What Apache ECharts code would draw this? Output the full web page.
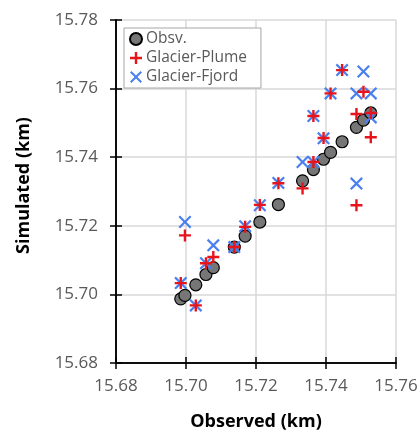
<!DOCTYPE html>
<html>
<head>
<meta charset="utf-8">
<script src="https://cdn.jsdelivr.net/npm/echarts@6/dist/echarts.min.js"></script>
<style>
html, body { margin: 0; padding: 0; background: #fff; }
#main { width: 420px; height: 430px; }
</style>
</head>
<body>
<div id="main"></div>
<script>
var obsX = [15.6985, 15.6997, 15.7028, 15.7057, 15.7078, 15.7138, 15.7169, 15.7211, 15.7264,
    15.7333, 15.7364, 15.7393, 15.7413, 15.7446, 15.7487, 15.7507, 15.7528];
var obsY = [15.6987, 15.6997, 15.7028, 15.7058, 15.7078, 15.7138, 15.7170, 15.7211, 15.7262,
    15.7331, 15.7364, 15.7394, 15.7414, 15.7445, 15.7487, 15.7508, 15.7529];

var plumeX = [15.6985, 15.6997, 15.7028, 15.7057, 15.7078, 15.7138, 15.7169, 15.7211, 15.7264, 15.7333,
    15.7364, 15.7364, 15.7393, 15.7413, 15.7446, 15.7487, 15.7487, 15.7507, 15.7528, 15.7528];
var plumeY = [15.7033, 15.7172, 15.6968, 15.7091, 15.7109, 15.7138, 15.7197, 15.7261, 15.7324, 15.7309,
    15.7386, 15.7520, 15.7456, 15.7586, 15.7654, 15.7526, 15.7260, 15.7591, 15.7529, 15.7458];

var fjordX = [15.6985, 15.6997, 15.7028, 15.7057, 15.7078, 15.7138, 15.7169, 15.7211, 15.7264, 15.7333,
    15.7364, 15.7364, 15.7393, 15.7413, 15.7446, 15.7487, 15.7487, 15.7507, 15.7528, 15.7528];
var fjordY = [15.7033, 15.7211, 15.6968, 15.7091, 15.7143, 15.7138, 15.7199, 15.7260, 15.7325, 15.7386,
    15.7386, 15.7520, 15.7455, 15.7586, 15.7654, 15.7586, 15.7323, 15.7650, 15.7586, 15.7516];

var seriesNames = ['Obsv.', 'Glacier-Plume', 'Glacier-Fjord'];

function pairs(xs, ys) {
    return xs.map(function (x, i) { return [x, ys[i]]; });
}

var plusPath = 'path://M4,0h2v4h4v2h-4v4h-2v-4h-4v-2h4z';
var crossPath = 'path://M0,1.2L1.2,0L5,3.8L8.8,0L10,1.2L6.2,5L10,8.8L8.8,10L5,6.2L1.2,10L0,8.8L3.8,5Z';

var txt = '#595959';
var fnt = '"Open Sans", sans-serif';

function axisBase(min, max, extra) {
    var a = {
        type: 'value',
        min: min,
        max: max,
        interval: 0.02,
        axisLine: { show: true, lineStyle: { color: '#000', width: 1.5 } },
        axisTick: { show: true, inside: false, length: 6, lineStyle: { color: '#000', width: 1.5 } },
        axisLabel: {
            color: txt, fontFamily: fnt, fontSize: 17,
            formatter: function (v) { return v.toFixed(2); }
        },
        splitLine: { show: true, lineStyle: { color: '#d9d9d9', width: 1.5 } }
    };
    for (var k in extra) a[k] = extra[k];
    return a;
}

var mainDiv = document.getElementById('main');
var myChart = echarts.init(mainDiv);

var option = {
    backgroundColor: '#fff',
    animation: false,
    grid: { left: 116, right: 24, top: 20, bottom: 67, outerBoundsMode: 'none' },
    legend: {
        data: seriesNames,
        orient: 'vertical',
        left: 124,
        top: 28,
        padding: [3, 14, 3, 5],
        itemGap: 3,
        itemWidth: 12,
        itemHeight: 12,
        borderColor: '#a6a6a6',
        borderWidth: 1,
        backgroundColor: '#fff',
        textStyle: { color: txt, fontFamily: fnt, fontSize: 15.5, padding: [0, 0, 0, -1] }
    },
    xAxis: [
        axisBase(15.68, 15.76, {
            name: 'Observed (km)',
            nameLocation: 'middle',
            nameGap: 50,
            nameTextStyle: { color: '#000', fontFamily: fnt, fontSize: 18, fontWeight: 'bold' },
            axisLabel: {
                color: txt, fontFamily: fnt, fontSize: 17, margin: 15,
                formatter: function (v) { return v.toFixed(2); }
            }
        }),
        axisBase(15.68, 15.76, {
            position: 'bottom', offset: 0,
            axisTick: { show: true, inside: true, length: 6, lineStyle: { color: '#000', width: 1.5 } },
            axisLabel: { show: false },
            splitLine: { show: false }
        })
    ],
    yAxis: [
        axisBase(15.68, 15.78, {
            name: 'Simulated (km)',
            nameLocation: 'middle',
            nameGap: 83,
            nameTextStyle: { color: '#000', fontFamily: fnt, fontSize: 18, fontWeight: 'bold', padding: [0, 0, 0, 12] },
            axisLabel: {
                color: txt, fontFamily: fnt, fontSize: 17, margin: 18,
                formatter: function (v) { return v.toFixed(2); }
            }
        }),
        axisBase(15.68, 15.78, {
            position: 'left', offset: 0,
            axisTick: { show: true, inside: true, length: 6, lineStyle: { color: '#000', width: 1.5 } },
            axisLabel: { show: false },
            splitLine: { show: false }
        })
    ],
    series: [
        {
            name: 'Obsv.',
            type: 'scatter',
            symbol: 'circle',
            symbolSize: 12,
            z: 2,
            itemStyle: { color: '#767676', borderColor: '#000', borderWidth: 1.2, opacity: 1 },
            data: pairs(obsX, obsY)
        },
        {
            name: 'Glacier-Plume',
            type: 'scatter',
            symbol: plusPath,
            symbolSize: 12,
            z: 4,
            itemStyle: { color: '#e8141b', opacity: 1 },
            data: pairs(plumeX, plumeY)
        },
        {
            name: 'Glacier-Fjord',
            type: 'scatter',
            symbol: crossPath,
            symbolSize: 13,
            z: 3,
            itemStyle: { color: '#4a80ee', opacity: 1 },
            data: pairs(fjordX, fjordY)
        }
    ]
};
myChart.setOption(option);
</script>
</body>
</html>
